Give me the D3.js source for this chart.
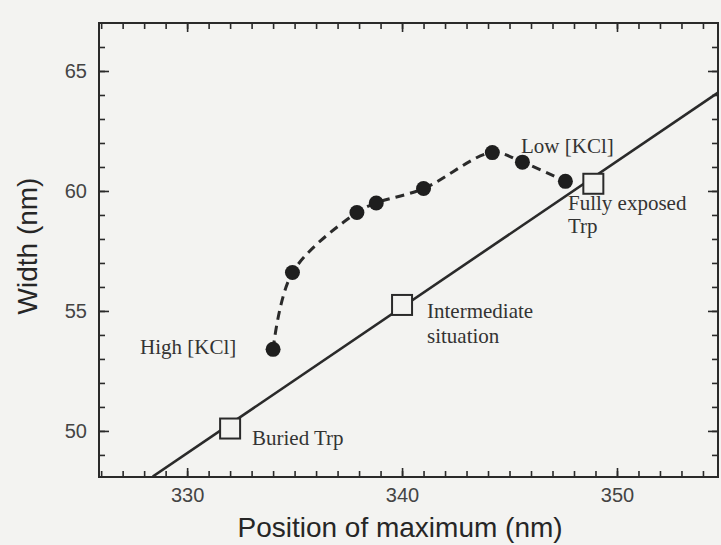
<!DOCTYPE html>
<html>
<head>
<meta charset="utf-8">
<script src="https://cdn.jsdelivr.net/npm/d3@7"></script>
<style>
  body { margin: 0; background: #f3f3f1; }
  svg { display: block; }
</style>
</head>
<body>
<div id="chart"></div>
<script>
// data
const KCL_X = [334.0, 334.9, 337.9, 338.8, 341.0, 344.2, 345.6, 347.6];
const KCL_Y = [53.4, 56.6, 59.1, 59.5, 60.1, 61.6, 61.2, 60.4];

const REF_X = [332.0, 340.0, 348.9];
const REF_Y = [50.1, 55.25, 60.3];

// straight reference line, ends read where it meets the frame
const FIT_X = [328.4, 354.7];
const FIT_Y = [48.1, 64.1];

const X_LABELS = [330, 340, 350];
const Y_LABELS = [50, 55, 60, 65];

const FRAME_WIDTH = 721;
const FRAME_HEIGHT = 545;
const MARGINS = {left: 99, right: 3, top: 23, bottom: 68};
const VIS_WIDTH = FRAME_WIDTH - MARGINS.left - MARGINS.right;
const VIS_HEIGHT = FRAME_HEIGHT - MARGINS.top - MARGINS.bottom;

const INK = "#2a2a2a";
const BG = "#f3f3f1";

const FRAME = d3.select("#chart")
                .append("svg")
                  .attr("width", FRAME_WIDTH)
                  .attr("height", FRAME_HEIGHT);

const X_SCALE = d3.scaleLinear()
                  .domain([325.9, 354.7])
                  .range([0, VIS_WIDTH]);
const Y_SCALE = d3.scaleLinear()
                  .domain([48.08, 67.0])
                  .range([VIS_HEIGHT, 0]);

const G = FRAME.append("g")
               .attr("transform", "translate(" + MARGINS.left + "," + MARGINS.top + ")");

G.append("clipPath").attr("id", "plotclip")
  .append("rect").attr("width", VIS_WIDTH).attr("height", VIS_HEIGHT);

// minor ticks every 1 nm, all four sides, pointing in
const xMinor = d3.range(326, 355);
const yMinor = d3.range(49, 67);

function styleAxis(sel) {
    sel.select(".domain").remove();
    sel.selectAll(".tick line").attr("stroke", INK).attr("stroke-width", 1.6);
    sel.selectAll("text")
       .attr("fill", "#444")
       .style("font-family", "'Liberation Sans', Arial, sans-serif")
       .style("font-size", "20px");
}

G.append("g").attr("transform", "translate(0," + VIS_HEIGHT + ")")
  .call(d3.axisBottom(X_SCALE).tickValues(xMinor).tickSize(-6).tickFormat(""))
  .call(styleAxis);
G.append("g")
  .call(d3.axisTop(X_SCALE).tickValues(xMinor).tickSize(-6).tickFormat(""))
  .call(styleAxis);
G.append("g")
  .call(d3.axisLeft(Y_SCALE).tickValues(yMinor).tickSize(-6).tickFormat(""))
  .call(styleAxis);
G.append("g").attr("transform", "translate(" + VIS_WIDTH + ",0)")
  .call(d3.axisRight(Y_SCALE).tickValues(yMinor).tickSize(-6).tickFormat(""))
  .call(styleAxis);

// major ticks with labels
G.append("g").attr("transform", "translate(0," + VIS_HEIGHT + ")")
  .call(d3.axisBottom(X_SCALE).tickValues(X_LABELS).tickSize(-9).tickPadding(11).tickFormat(d3.format("d")))
  .call(styleAxis);
G.append("g")
  .call(d3.axisTop(X_SCALE).tickValues(X_LABELS).tickSize(-9).tickFormat(""))
  .call(styleAxis);
G.append("g")
  .call(d3.axisLeft(Y_SCALE).tickValues(Y_LABELS).tickSize(-10).tickPadding(12).tickFormat(d3.format("d")))
  .call(styleAxis);
G.append("g").attr("transform", "translate(" + VIS_WIDTH + ",0)")
  .call(d3.axisRight(Y_SCALE).tickValues(Y_LABELS).tickSize(-10).tickFormat(""))
  .call(styleAxis);

// frame
G.append("rect")
  .attr("width", VIS_WIDTH)
  .attr("height", VIS_HEIGHT)
  .attr("fill", "none")
  .attr("stroke", INK)
  .attr("stroke-width", 2);

const plot = G.append("g").attr("clip-path", "url(#plotclip)");

// solid reference line
plot.append("path")
    .datum(d3.zip(FIT_X, FIT_Y))
    .attr("d", d3.line().x(d => X_SCALE(d[0])).y(d => Y_SCALE(d[1])))
    .attr("fill", "none")
    .attr("stroke", INK)
    .attr("stroke-width", 2.6);

// dashed KCl curve
const kcl = d3.zip(KCL_X, KCL_Y);
plot.append("path")
    .datum(kcl)
    .attr("d", d3.line().curve(d3.curveCatmullRom.alpha(0.5)).x(d => X_SCALE(d[0])).y(d => Y_SCALE(d[1])))
    .attr("fill", "none")
    .attr("stroke", INK)
    .attr("stroke-width", 3)
    .attr("stroke-dasharray", "9,6");

plot.selectAll(".dot")
    .data(kcl)
    .enter()
    .append("circle")
      .attr("cx", d => X_SCALE(d[0]))
      .attr("cy", d => Y_SCALE(d[1]))
      .attr("r", 7.5)
      .attr("fill", "#1e1e1e");

// open squares
const SQ = 20;
plot.selectAll(".sq")
    .data(d3.zip(REF_X, REF_Y))
    .enter()
    .append("rect")
      .attr("x", d => X_SCALE(d[0]) - SQ / 2)
      .attr("y", d => Y_SCALE(d[1]) - SQ / 2)
      .attr("width", SQ)
      .attr("height", SQ)
      .attr("fill", BG)
      .attr("stroke", INK)
      .attr("stroke-width", 2);

// annotations
const notes = [
    {t: "High [KCl]", x: 140, y: 354},
    {t: "Low [KCl]", x: 521, y: 153},
    {t: "Fully exposed", x: 568, y: 210},
    {t: "Trp", x: 568, y: 233},
    {t: "Intermediate", x: 427, y: 318},
    {t: "situation", x: 427, y: 343},
    {t: "Buried Trp", x: 252, y: 445}
];
FRAME.selectAll(".note")
     .data(notes)
     .enter()
     .append("text")
       .attr("x", d => d.x)
       .attr("y", d => d.y)
       .attr("fill", "#333")
       .style("font-family", "'Liberation Serif', 'Times New Roman', serif")
       .style("font-size", "21px")
       .text(d => d.t);

// axis titles
FRAME.append("text")
     .attr("x", MARGINS.left + X_SCALE(340) - 2)
     .attr("y", 537)
     .attr("text-anchor", "middle")
     .attr("fill", "#262626")
     .style("font-family", "'Liberation Sans', Arial, sans-serif")
     .style("font-size", "28px")
     .text("Position of maximum (nm)");

FRAME.append("text")
     .attr("transform", "translate(37,246) rotate(-90)")
     .attr("text-anchor", "middle")
     .attr("fill", "#262626")
     .style("font-family", "'Liberation Sans', Arial, sans-serif")
     .style("font-size", "28px")
     .text("Width (nm)");
</script>
</body>
</html>
